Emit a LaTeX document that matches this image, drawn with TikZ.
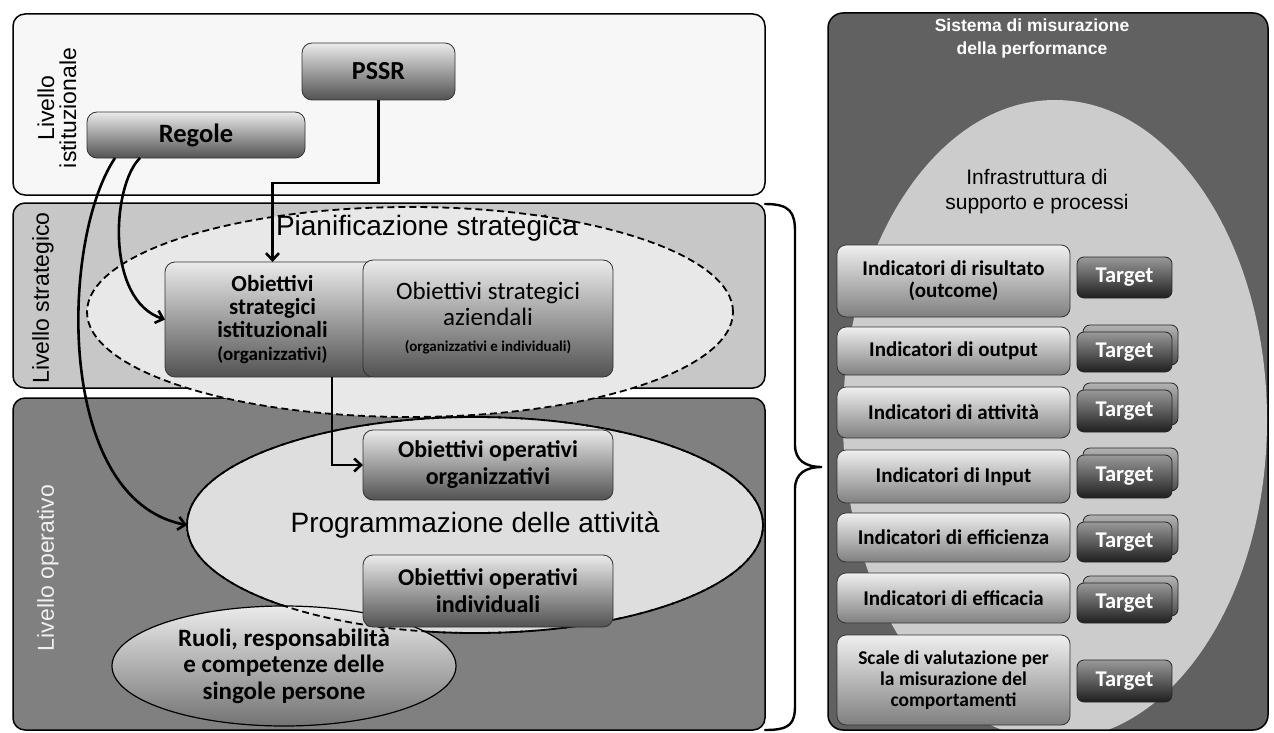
\documentclass[tikz,border=0pt]{standalone}
\usepackage{fontspec}
\setmainfont{Liberation Sans}
\newfontfamily\calib{Carlito}
\usetikzlibrary{shapes.geometric,arrows.meta}

\begin{document}
\begin{tikzpicture}[y=1pt, x=1pt, yscale=-1, inner sep=0pt, outer sep=0pt,
  panel/.style={draw=black, line width=1.5pt, rounded corners=12pt},
  levtext/.style={rotate=90, align=center, font=\fontsize{23}{22}\selectfont},
  gbox/.style={draw=black!80, line width=0.8pt, rounded corners=10pt, top color=black!8, bottom color=black!68, align=center, font=\calib\bfseries\fontsize{24}{24}\selectfont},
  dashell/.style={ellipse, draw=black, line width=1.8pt, dash pattern=on 7pt off 4pt},
  indbox/.style={draw=black!80, line width=0.8pt, rounded corners=9pt, top color=black!6, bottom color=black!50, align=center, minimum width=233pt, font=\calib\bfseries\fontsize{21}{22}\selectfont},
  tgtbox/.style={draw=black!85, line width=0.8pt, rounded corners=7pt, top color=black!40, bottom color=black!88, text=white, minimum width=95pt, font=\calib\bfseries\fontsize{22.5}{22}\selectfont},
  tgtback/.style={tgtbox, top color=black!30, bottom color=black!70},
  conn/.style={draw=black, line width=2.6pt, -{Straight Barb[length=7pt,width=13pt]}}]
\useasboundingbox (0,0) rectangle (1274,733);
% levels on the left
\path[panel, fill=black!3] (13,14) rectangle (765,195);
\path[panel, fill=black!22] (13,203) rectangle (765,388);
\path[panel, fill=black!50] (13,398) rectangle (765,730);
\node[levtext] (livist) at (57,108) {Livello\\istituzionale};
\node[levtext] (livstr) at (43,298) {Livello strategico};
\node[levtext, text=black!6] (livop) at (48,568) {Livello operativo};
% ellipses
\node[dashell, fill=black!9, minimum width=646pt, minimum height=210pt] (pian) at (410,312) {};
\node[font=\fontsize{28}{28}\selectfont] (piantxt) at (427,228) {Pianificazione strategica};
\node[dashell, fill=black!13, minimum width=576pt, minimum height=216pt, font=\fontsize{28}{28}\selectfont] (prog) at (475,525) {Programmazione delle attività};
\node[ellipse, draw=black, line width=1.2pt, top color=black!8, bottom color=black!55, minimum width=344pt, minimum height=120pt, align=center, font=\calib\bfseries\fontsize{25}{26.5}\selectfont] (ruoli) at (284,666) {Ruoli, responsabilità\\e competenze delle\\singole persone};
\path[draw=black, line width=1.8pt, dash pattern=on 7pt off 4pt] (prog.center) ellipse [x radius=288, y radius=108];
% boxes
\node[gbox, minimum width=218pt, minimum height=46pt, font=\calib\bfseries\fontsize{26.5}{26}\selectfont] (regole) at (196,135) {Regole};
\node[gbox, minimum width=153pt, minimum height=57pt, font=\calib\bfseries\fontsize{26}{26}\selectfont] (pssr) at (378.5,71.5) {PSSR};
\node[gbox, minimum width=215pt, minimum height=115pt, font=\calib\bfseries\fontsize{23}{23}\selectfont] (obis) at (272.5,319.5) {Obiettivi\\strategici\\istituzionali\\{\fontsize{19}{21}\selectfont(organizzativi)}};
\node[gbox, minimum width=250pt, minimum height=117pt, font=\calib\fontsize{25}{26}\selectfont] (obaz) at (488,318.5) {Obiettivi strategici\\aziendali\\{\bfseries\fontsize{15}{17}\selectfont(organizzativi e individuali)}};
\node[gbox, minimum width=250pt, minimum height=70pt, font=\calib\bfseries\fontsize{24}{27}\selectfont] (opo) at (488,465) {Obiettivi operativi\\organizzativi};
\node[gbox, minimum width=250pt, minimum height=72pt, font=\calib\bfseries\fontsize{24}{27}\selectfont] (opi) at (488,591) {Obiettivi operativi\\individuali};
% connectors
\draw[conn] (pssr.south) -- ++(0,83) -| (obis.north);
\draw[conn] ([xshift=59.5pt]obis.south) |- (opo.west);
\draw[conn] ([xshift=-56pt]regole.south) .. controls (112,185) and (105,300) .. (obis.west);
\draw[conn] ([xshift=-81pt]regole.south) .. controls (60,240) and (55,500) .. (prog.west);
% brace
\path[draw=black, line width=2.4pt, line cap=round] (765,204) .. controls (790,204) and (795,212) .. (795,232) -- (795,445) .. controls (795,460) and (805,467) .. (822,467) .. controls (805,467) and (795,474) .. (795,489) -- (795,705) .. controls (795,724) and (790,730) .. (765,730);
% measurement system on the right
\path[fill=black!62, rounded corners=15pt] (828,13) rectangle (1268,730);
\begin{scope}
  \clip[rounded corners=15pt] (828,13) rectangle (1268,730);
  \path[fill=black!20] (1055,420) ellipse [x radius=212, y radius=320];
\end{scope}
\path[draw=black, line width=1.5pt, rounded corners=15pt] (828,13) rectangle (1268,730);
\node[align=center, text=white, font=\bfseries\fontsize{17.5}{23}\selectfont] (sistema) at (1032,38) {Sistema di misurazione\\della performance};
\node[align=center, font=\fontsize{21}{25}\selectfont] (infra) at (1037,192) {Infrastruttura di\\supporto e processi};
\node[indbox, minimum height=72pt] (ind1) at (953.5,281) {Indicatori di risultato\\(outcome)};
\node[indbox, minimum height=48pt] (ind2) at (953.5,351) {Indicatori di output};
\node[indbox, minimum height=51pt] (ind3) at (953.5,412.5) {Indicatori di attività};
\node[indbox, minimum height=53pt] (ind4) at (953.5,476.5) {Indicatori di Input};
\node[indbox, minimum height=49pt] (ind5) at (953.5,537.5) {Indicatori di efficienza};
\node[indbox, minimum height=50pt] (ind6) at (953.5,598) {Indicatori di efficacia};
\node[indbox, minimum height=90pt, font=\calib\bfseries\fontsize{19.5}{21}\selectfont] (ind7) at (953.5,680) {Scale di valutazione per\\la misurazione del\\comportamenti};
\node[tgtback, minimum height=40pt] (tb2) at (1130.5,345) {};
\node[tgtback, minimum height=42pt] (tb3) at (1130.5,404) {};
\node[tgtback, minimum height=43pt] (tb4) at (1130.5,469.5) {};
\node[tgtback, minimum height=40pt] (tb5) at (1130.5,535) {};
\node[tgtback, minimum height=40pt] (tb6) at (1130.5,596) {};
\node[tgtbox, minimum height=41pt] (tgt1) at (1124.5,277.5) {Target};
\node[tgtbox, minimum height=40pt] (tgt2) at (1124.5,352) {Target};
\node[tgtbox, minimum height=42pt] (tgt3) at (1124.5,411) {Target};
\node[tgtbox, minimum height=43pt] (tgt4) at (1124.5,476.5) {Target};
\node[tgtbox, minimum height=40pt] (tgt5) at (1124.5,542) {Target};
\node[tgtbox, minimum height=40pt] (tgt6) at (1124.5,603) {Target};
\node[tgtbox, minimum height=42pt] (tgt7) at (1124.5,681) {Target};
\end{tikzpicture}
\end{document}
